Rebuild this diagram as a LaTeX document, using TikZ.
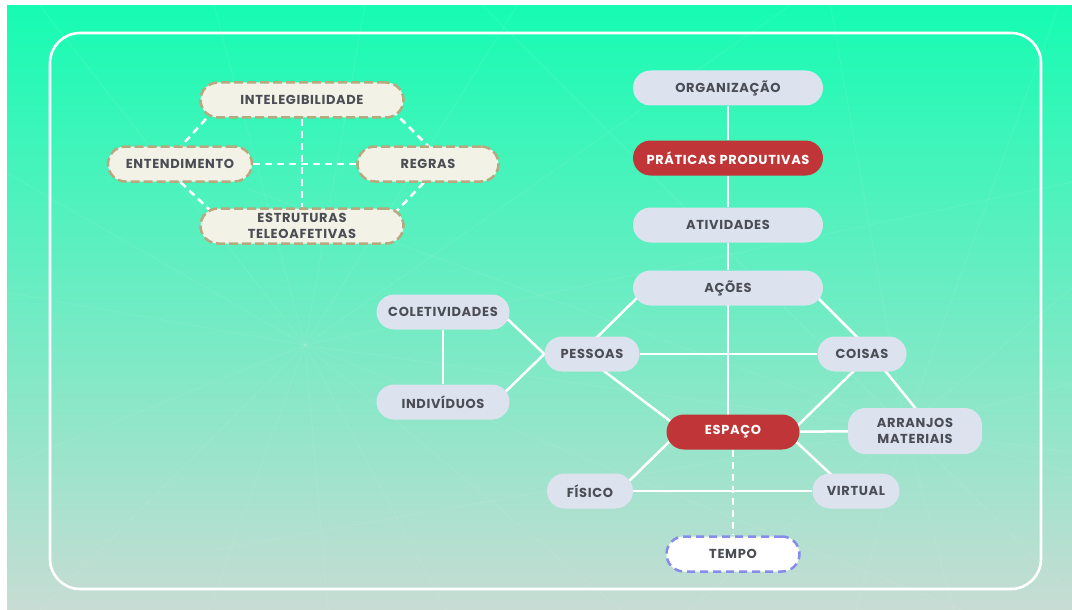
\documentclass[tikz,border=0pt]{standalone}
\usepackage{fontspec}
\setmainfont{Poppins}
\pgfdeclarelayer{bg}
\pgfdeclarelayer{edges}
\pgfsetlayers{bg,edges,main}
\definecolor{mintTop}{RGB}{22,252,178}
\definecolor{mintMid}{RGB}{98,234,194}
\definecolor{mintBot}{RGB}{200,220,212}
\definecolor{pill}{RGB}{220,227,238}
\definecolor{cream}{RGB}{242,242,230}
\definecolor{tan}{RGB}{183,168,128}
\definecolor{redpill}{RGB}{192,54,56}
\definecolor{ink}{RGB}{75,77,85}
\definecolor{lilac}{RGB}{135,140,235}

\begin{document}
\begin{tikzpicture}[x=1pt,y=-1pt,
  pillbase/.style={rectangle, rounded corners=17.5pt, minimum height=35pt,
    inner sep=0pt, align=center, text=ink,
    font=\bfseries\fontsize{13}{16.5}\selectfont\addfontfeatures{LetterSpace=5}},
  grey/.style={pillbase, fill=pill},
  hot/.style={pillbase, fill=redpill, text=white},
  concept/.style={pillbase, fill=cream, draw=tan, line width=2.5pt,
    dash pattern=on 9pt off 4pt},
  timebox/.style={pillbase, fill=white, draw=lilac, line width=2.5pt,
    dash pattern=on 8pt off 5pt},
  link/.style={draw=white, line width=2.5pt},
  dlink/.style={draw=white, line width=2.5pt, dash pattern=on 7pt off 5pt},
  ray/.style={draw=white, opacity=0.08, line width=0.8pt}
]
\useasboundingbox (0,0) rectangle (1072,610);

% background: white margin, mint gradient, faint rays, outer frame
\begin{pgfonlayer}{bg}
  \fill[white] (0,0) rectangle (1072,610);
  \shade[top color=mintTop, middle color=mintMid, bottom color=mintBot]
    (7,6) rectangle (1072,610);
  \begin{scope}
    \clip (7,6) rectangle (1072,610);
    \foreach \a in {-170,-150,-128,-105,-80,-58,-35,-12,8,22,40,62,85,110,135,158}
      \draw[ray] (305,345) -- ++(\a:900);
    \foreach \a in {-160,-135,-100,-70,-40,-15,15,45,75,105,140,170}
      \draw[ray] (905,428) -- ++(\a:700);
  \end{scope}
  \draw[white, line width=2.6pt, rounded corners=30pt] (50,33) rectangle (1041,589);
\end{pgfonlayer}

% left cluster
\node[concept, minimum width=203pt] (int) at (302,100) {INTELEGIBILIDADE};
\node[concept, minimum width=144pt] (ent) at (180,164) {ENTENDIMENTO};
\node[concept, minimum width=141pt] (reg) at (428,164) {REGRAS};
\node[concept, minimum width=203pt] (est) at (302,226) {ESTRUTURAS\\TELEOAFETIVAS};

% right cluster
\node[grey, minimum width=190pt] (org) at (728,88) {ORGANIZAÇÃO};
\node[hot,  minimum width=190pt] (pra) at (728,158) {PRÁTICAS PRODUTIVAS};
\node[grey, minimum width=190pt] (ati) at (728,225) {ATIVIDADES};
\node[grey, minimum width=190pt] (aco) at (728,288) {AÇÕES};
\node[grey, minimum width=133pt] (col) at (443,312) {COLETIVIDADES};
\node[grey, minimum width=133pt] (ind) at (443,402) {INDIVÍDUOS};
\node[grey, minimum width=95pt]  (pes) at (592,354) {PESSOAS};
\node[grey, minimum width=89pt]  (coi) at (862,354) {COISAS};
\node[hot,  minimum width=133pt] (esp) at (733,432) {ESPAÇO};
\node[grey, minimum width=134pt, minimum height=46pt] (arr) at (915,431) {ARRANJOS\\MATERIAIS};
\node[grey, minimum width=86pt]  (fis) at (590,491) {FÍSICO};
\node[grey, minimum width=87pt]  (vir) at (856,491) {VIRTUAL};
\node[timebox, minimum width=133pt] (tem) at (733,554) {TEMPO};

% connectors, kept behind the pills
\begin{pgfonlayer}{edges}
  \path[dlink] ([shift={(-88,10)}]int.center) -- ([shift={(-5,-11)}]ent.center);
  \path[dlink] ([shift={(90,10)}]int.center) -- ([shift={(8,-10)}]reg.center);
  \path[dlink] (int) -- (est);
  \path[dlink] (ent) -- (reg);
  \path[dlink] ([shift={(-8,10)}]ent.center) -- ([shift={(-87,-11)}]est.center);
  \path[dlink] ([shift={(4,10)}]reg.center) -- ([shift={(90,-10)}]est.center);

  \path[link] (org) -- (pra);
  \path[link] (pra) -- (ati);
  \path[link] (ati) -- (aco);
  \path[link] (aco.center) -- (aco.center |- esp.center);
  \path[link] ([shift={(-83,2)}]aco.center) -- ([shift={(-7,-5)}]pes.center);
  \path[link] ([shift={(84,4)}]aco.center) -- ([shift={(4,-8)}]coi.center);
  \path[link] ([shift={(57,0)}]col.center) -- (pes.west);
  \path[link] ([shift={(57,-5)}]ind.center) -- (pes.west);
  \path[link] (col) -- (ind);
  \path[link] (pes) -- (coi);
  \path[link] ([shift={(0,8)}]pes.center) -- ([shift={(-55,-5)}]esp.center);
  \path[link] ([shift={(-1,10)}]coi.center) -- ([shift={(59,-1)}]esp.center);
  \path[link] ([shift={(16,8)}]coi.center) -- ([shift={(10,-11)}]arr.center);
  \path[link] (esp) -- (arr);
  \path[link] ([shift={(-57,3)}]esp.center) -- ([shift={(32,-3)}]fis.center);
  \path[link] ([shift={(57,4)}]esp.center) -- ([shift={(-18,-10)}]vir.center);
  \path[link] (fis) -- (vir);
  \path[dlink] (esp) -- (tem);
\end{pgfonlayer}
\end{tikzpicture}
\end{document}
